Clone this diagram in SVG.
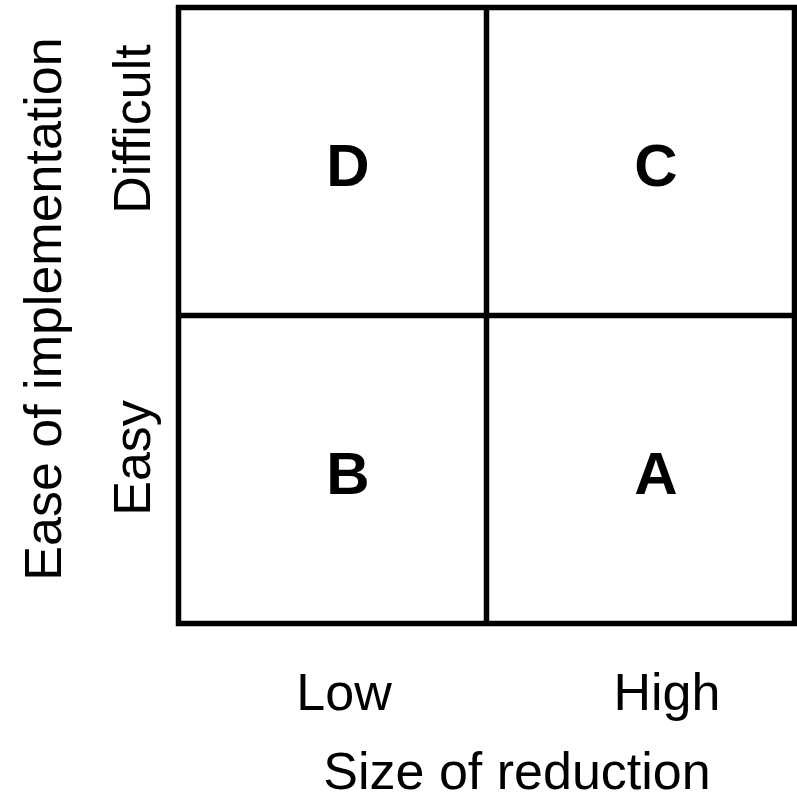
<svg xmlns="http://www.w3.org/2000/svg" width="797" height="801" viewBox="0 0 797 801">
<style>
.q{font-family:"Liberation Sans",Arial,sans-serif;font-weight:bold;font-size:60px;text-anchor:middle;fill:#000}
.l{font-family:"Liberation Sans",Arial,sans-serif;font-size:52px;text-anchor:middle;fill:#000}
.g{fill:none;stroke:#000;stroke-width:5.5}
</style>
<rect width="797" height="801" fill="#fff"/>
<g id="grid">
<rect class="g" x="178.5" y="7.5" width="616" height="616"/>
<line class="g" x1="486.5" y1="7.5" x2="486.5" y2="623.5"/>
<line class="g" x1="178.5" y1="315.5" x2="794.5" y2="315.5"/>
</g>
<g id="D"><text class="q" x="348" y="186">D</text></g>
<g id="C"><text class="q" x="656" y="186">C</text></g>
<g id="B"><text class="q" x="348" y="494">B</text></g>
<g id="A"><text class="q" x="656" y="494">A</text></g>
<g id="xlabels">
<text class="l" x="344" y="710">Low</text>
<text class="l" x="667" y="710">High</text>
<text class="l" x="517" y="789">Size of reduction</text>
</g>
<g id="ylabels">
<text class="l" transform="translate(61,309) rotate(-90)">Ease of implementation</text>
<text class="l" transform="translate(150,129) rotate(-90)">Difficult</text>
<text class="l" transform="translate(150,458) rotate(-90)">Easy</text>
</g>
<g id="connectors"></g>
</svg>
